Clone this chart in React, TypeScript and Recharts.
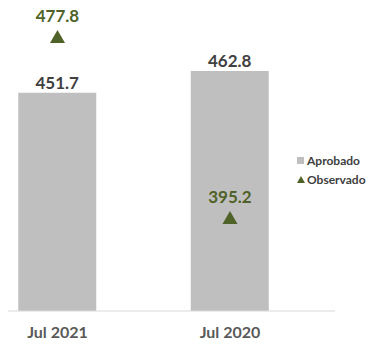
import { ComposedChart, Bar, Line, XAxis, YAxis, LabelList } from "recharts"

const categories = ["Jul 2021", "Jul 2020"]
const aprobado = [451.7, 462.8]
const observado = [477.8, 395.2]
const seriesNames = ["Aprobado", "Observado"]

const data = categories.map((c, i) => ({ name: c, aprobado: aprobado[i], observado: observado[i] }))

const GREEN = "#4F6228"
const GRAY = "#BFBFBF"
const FONT = "Lato, 'Open Sans', sans-serif"

const Triangle = (props: any) => {
  const { cx, cy } = props
  if (cx == null || cy == null) return null
  return <path d={`M${cx},${cy - 7} L${cx + 7.5},${cy + 6} L${cx - 7.5},${cy + 6} Z`} fill={GREEN} />
}

export default function App() {
  return (
    <div style={{ position: "absolute", left: 0, top: 0, width: 378, height: 344, background: "#fff", fontFamily: FONT }}>
      <ComposedChart width={378} height={344} data={data} margin={{ top: 10, right: 43, left: 8, bottom: 0 }}>
        <XAxis
          dataKey="name"
          height={33}
          padding={{ left: -36.75, right: 18.75 }}
          axisLine={{ stroke: "#D9D9D9" }}
          tickLine={false}
          tick={{ fontSize: 16, fontWeight: 700, fill: "#595959", fontFamily: FONT }}
          tickMargin={10}
        />
        <YAxis yAxisId="left" hide domain={[340, 494]} />
        <YAxis yAxisId="right" hide orientation="right" domain={[352.75, 490.1]} />
        <Bar yAxisId="left" dataKey="aprobado" fill={GRAY} barSize={78} isAnimationActive={false}>
          <LabelList
            dataKey="aprobado"
            position="top"
            offset={4}
            style={{ fontSize: 17, fontWeight: 700, fill: "#404040", fontFamily: FONT }}
          />
        </Bar>
        <Line
          yAxisId="right"
          dataKey="observado"
          stroke="none"
          dot={<Triangle />}
          activeDot={false}
          isAnimationActive={false}
        >
          <LabelList
            dataKey="observado"
            position="top"
            offset={15}
            style={{ fontSize: 17, fontWeight: 700, fill: GREEN, fontFamily: FONT }}
          />
        </Line>
      </ComposedChart>
      <div style={{ position: "absolute", left: 297, top: 151, fontSize: 12, fontWeight: 700, color: "#404040", lineHeight: "19px" }}>
        <div style={{ display: "flex", alignItems: "center" }}>
          <span style={{ display: "inline-block", width: 7, height: 7, background: GRAY, marginRight: 3 }} />
          {seriesNames[0]}
        </div>
        <div style={{ display: "flex", alignItems: "center" }}>
          <svg width={8} height={7} style={{ marginRight: 2 }}>
            <path d="M4,0 L8,7 L0,7 Z" fill={GREEN} />
          </svg>
          {seriesNames[1]}
        </div>
      </div>
    </div>
  )
}
